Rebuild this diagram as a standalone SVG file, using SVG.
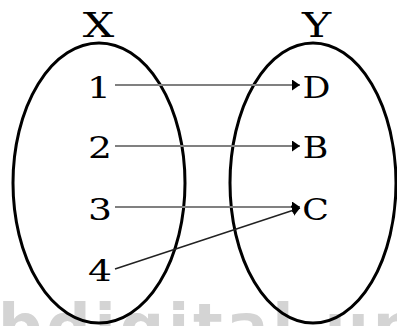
<svg xmlns="http://www.w3.org/2000/svg" width="397" height="326" viewBox="0 0 397 326">
<style>
.set{fill:none;stroke:#000;stroke-width:3}
.t{font-family:"DejaVu Serif",serif;font-size:29px;fill:#000;text-anchor:middle}
.h{font-family:"DejaVu Serif",serif;font-size:34px;fill:#000;text-anchor:middle}
.c{stroke:#808080;stroke-width:2.2;fill:none}
.wm{font-family:"DejaVu Sans",sans-serif;font-size:62px;font-weight:bold;fill:#d4d4d4}
</style>
<defs>
<marker id="ah" viewBox="0 0 8 11" refX="8" refY="5.5" markerWidth="8" markerHeight="11" markerUnits="userSpaceOnUse" orient="auto">
<path d="M0,0 L8,5.5 L0,11 Z" fill="#000"/>
</marker>
</defs>
<text class="wm" x="-2" y="348" textLength="419" lengthAdjust="spacing">bdigital.un</text>
<g id="setX">
<ellipse class="set" cx="99" cy="183" rx="86" ry="140"/>
<text class="h" transform="translate(98.5,37) scale(1.3,1)">X</text>
</g>
<g id="setY">
<ellipse class="set" cx="313" cy="183" rx="83" ry="140"/>
<text class="h" transform="translate(316.5,37) scale(1.3,1)">Y</text>
</g>
<g id="n1"><text class="t" transform="translate(99,98) scale(1.3,1)">1</text></g>
<g id="n2"><text class="t" transform="translate(100,158) scale(1.3,1)">2</text></g>
<g id="n3"><text class="t" transform="translate(100,220) scale(1.3,1)">3</text></g>
<g id="n4"><text class="t" transform="translate(100,281) scale(1.3,1)">4</text></g>
<g id="nD"><text class="t" transform="translate(316.5,98) scale(1.2,1)">D</text></g>
<g id="nB"><text class="t" transform="translate(315.5,158) scale(1.2,1)">B</text></g>
<g id="nC"><text class="t" transform="translate(315.5,220) scale(1.2,1)">C</text></g>
<g id="connectors">
<line class="c" x1="115" y1="85" x2="300" y2="85" marker-end="url(#ah)"/>
<line class="c" x1="115" y1="146" x2="300" y2="146" marker-end="url(#ah)"/>
<line class="c" x1="115" y1="207" x2="300" y2="207" marker-end="url(#ah)"/>
<line x1="115" y1="269" x2="300" y2="208" stroke="#222" stroke-width="1.5" marker-end="url(#ah)"/>
</g>
</svg>
